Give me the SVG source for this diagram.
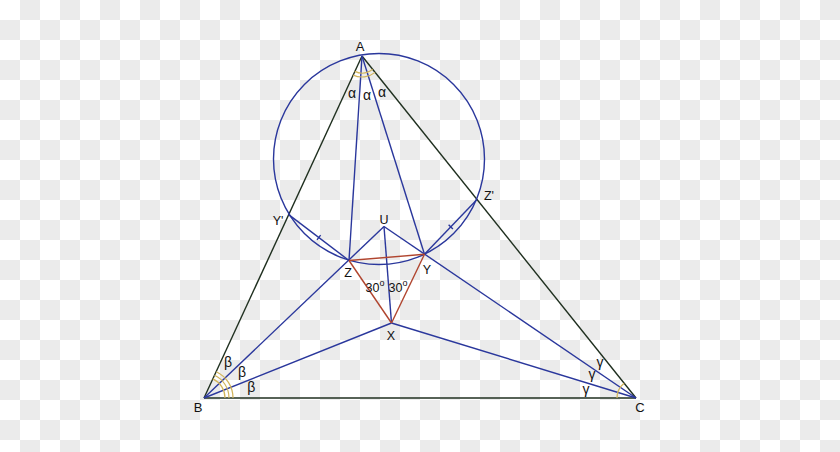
<svg xmlns="http://www.w3.org/2000/svg" width="840" height="452" viewBox="0 0 840 452">
<defs>
<pattern id="chk" x="0" y="0" width="40" height="40" patternUnits="userSpaceOnUse">
<rect width="40" height="40" fill="#ffffff"/>
<rect x="20" y="0" width="20" height="20" fill="#ebebeb"/>
<rect x="0" y="20" width="20" height="20" fill="#ebebeb"/>
</pattern>
<style>
.side{stroke:#1f2f1f;stroke-width:1.4;fill:none}
.blue{stroke:#2a379c;stroke-width:1.4;fill:none}
.red{stroke:#b0452f;stroke-width:1.4;fill:none}
.ang{stroke:#d2b45a;stroke-width:1.2;fill:none}
.lbl{font-family:"Liberation Sans",Arial,sans-serif;font-size:13px;fill:#111;text-anchor:middle}
.sm{font-size:12.5px}
.gr{font-family:"Liberation Sans",Arial,sans-serif;font-size:14px;fill:#111;text-anchor:middle}
</style>
</defs>
<rect width="840" height="452" fill="url(#chk)"/>
<g id="connectors">
<line class="side" x1="362" y1="56" x2="204" y2="398"/>
<line class="side" x1="362" y1="56" x2="636" y2="398"/>
<line class="side" x1="204" y1="398" x2="636" y2="398"/>
<circle class="blue" cx="379" cy="159" r="105.5"/>
<line class="blue" x1="362" y1="56" x2="349" y2="260.5"/>
<line class="blue" x1="362" y1="56" x2="424.5" y2="254.3"/>
<line class="blue" x1="204" y1="398" x2="391.5" y2="323"/>
<line class="blue" x1="636" y1="398" x2="391.5" y2="323"/>
<line class="blue" x1="204" y1="398" x2="384" y2="226.5"/>
<line class="blue" x1="636" y1="398" x2="384" y2="226.5"/>
<line class="blue" x1="384" y1="226.5" x2="391.5" y2="323"/>
<line class="blue" x1="288.7" y1="214.6" x2="349" y2="260.5"/>
<line class="blue" x1="477" y1="199.5" x2="424.5" y2="254.3"/>
<line class="blue" x1="317" y1="239.9" x2="320.6" y2="235.1"/>
<line class="blue" x1="448.6" y1="224.8" x2="452.9" y2="229"/>
<line class="red" x1="349" y1="260.5" x2="424.5" y2="254.3"/>
<line class="red" x1="424.5" y1="254.3" x2="391.5" y2="323"/>
<line class="red" x1="391.5" y1="323" x2="349" y2="260.5"/>
<path class="ang" d="M354.7,71.4 A17,17 0 0 0 372.6,69.3"/>
<path class="ang" d="M353.2,75.1 A21,21 0 0 0 375.1,72.4"/>
<path class="ang" d="M225,398 A21,21 0 0 0 212.8,378.9"/>
<path class="ang" d="M229,398 A25,25 0 0 0 214.5,375.3"/>
<path class="ang" d="M233,398 A29,29 0 0 0 216.2,371.7"/>
<path class="ang" d="M617,398 A19,19 0 0 1 624.1,383.2"/>
</g>
<g id="node-A"><text class="lbl" x="360" y="51">A</text></g>
<g id="node-B"><text class="lbl" x="198" y="412">B</text></g>
<g id="node-C"><text class="lbl" x="640" y="412">C</text></g>
<g id="node-Z"><text class="lbl sm" x="348" y="277">Z</text></g>
<g id="node-Y"><text class="lbl sm" x="427" y="274">Y</text></g>
<g id="node-X"><text class="lbl sm" x="391" y="340">X</text></g>
<g id="node-U"><text class="lbl sm" x="384" y="224">U</text></g>
<g id="node-Yp"><text class="lbl sm" x="278" y="225">Y'</text></g>
<g id="node-Zp"><text class="lbl sm" x="489" y="200">Z'</text></g>
<g id="angle-labels">
<text class="gr" x="352" y="97.5">α</text>
<text class="gr" x="367" y="99.5">α</text>
<text class="gr" x="382" y="97">α</text>
<text class="gr" x="228" y="367">β</text>
<text class="gr" x="242" y="377">β</text>
<text class="gr" x="251.3" y="392">β</text>
<text class="gr" x="600" y="367">γ</text>
<text class="gr" x="592" y="379">γ</text>
<text class="gr" x="586" y="394">γ</text>
<text class="lbl sm" x="375" y="291.5">30<tspan font-size="9" dy="-6">o</tspan></text>
<text class="lbl sm" x="398" y="291.5">30<tspan font-size="9" dy="-6">o</tspan></text>
</g>
</svg>
